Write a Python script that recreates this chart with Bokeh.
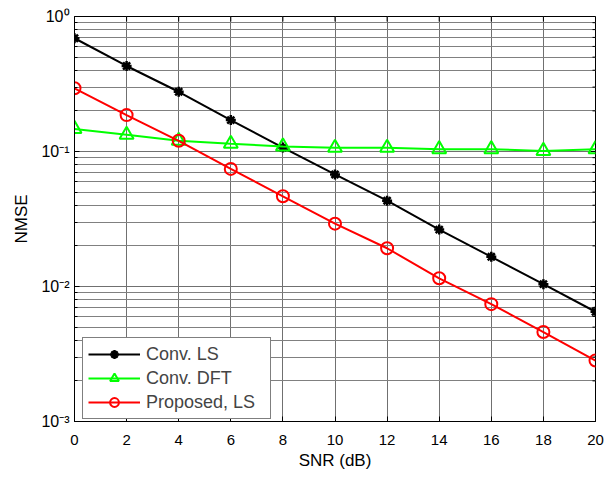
import math
from bokeh.plotting import figure
from bokeh.models import FixedTicker, Range1d, CustomJSTickFormatter, Legend, LegendItem
from bokeh.embed import file_html
from bokeh.resources import INLINE

snr = [0, 2, 4, 6, 8, 10, 12, 14, 16, 18, 20]
conv_ls = [0.69, 0.43, 0.277, 0.171, 0.107, 0.0676, 0.0432, 0.0264, 0.0166, 0.0104, 0.0065]
conv_dft = [0.147, 0.133, 0.12, 0.114, 0.109, 0.1066, 0.1066, 0.104, 0.104, 0.101, 0.104]
proposed_ls = [0.294, 0.186, 0.12, 0.0743, 0.0466, 0.0292, 0.0192, 0.0115, 0.0074, 0.0046, 0.00283]

x_ticks = [0, 2, 4, 6, 8, 10, 12, 14, 16, 18, 20]
y_ticks = [0.001, 0.01, 0.1, 1.0]
y_minor = [m * d for d in [0.001, 0.01, 0.1] for m in range(2, 10)]

FONT = "Liberation Sans"

p = figure(frame_width=521, frame_height=405, output_backend="svg", toolbar_location=None,
           y_axis_type="log", x_range=Range1d(0, 20), y_range=Range1d(1e-3, 1),
           min_border_left=74, min_border_right=9, min_border_top=16, min_border_bottom=40)
p.outline_line_color = "black"
p.outline_line_width = 1
p.background_fill_color = "white"

fmt = CustomJSTickFormatter(code="""
const e = Math.round(Math.log10(tick));
const sup = {'-':'\\u207b','0':'\\u2070','1':'\\u00b9','2':'\\u00b2','3':'\\u00b3'};
return '10' + String(e).split('').map(c => sup[c]).join('');
""")

xt = FixedTicker(ticks=x_ticks, minor_ticks=[])
yt = FixedTicker(ticks=y_ticks, minor_ticks=y_minor)

xa = p.xaxis[0]
xa.ticker = xt
xa.axis_label = "SNR (dB)"
ya = p.yaxis[0]
ya.ticker = yt
ya.formatter = fmt
ya.axis_label = "NMSE"

for ax in (xa, ya):
    ax.major_tick_in = 5
    ax.major_tick_out = 0
    ax.minor_tick_in = 3
    ax.minor_tick_out = 0
    ax.axis_line_color = "black"
    ax.major_tick_line_color = "black"
    ax.minor_tick_line_color = "black"
    ax.major_label_text_font = FONT
    ax.major_label_text_font_size = "15px"
    ax.major_label_text_color = "black"
    ax.axis_label_text_font = FONT
    ax.axis_label_text_font_size = "17px"
    ax.axis_label_text_font_style = "normal"
    ax.axis_label_text_color = "black"

ya.major_label_text_font_size = "16px"
xa.major_label_standoff = 13
xa.axis_label_standoff = 3
ya.major_label_standoff = 5
ya.axis_label_standoff = 7

p.xgrid.ticker = xt
p.ygrid.ticker = yt
for g in (p.xgrid[0], p.ygrid[0]):
    g.grid_line_color = "#707070"
    g.grid_line_width = 1
p.ygrid.minor_grid_line_color = "#808080"
p.ygrid.minor_grid_line_width = 1

# box ticks on top and right edges (MATLAB "box on")
p.ray(x=x_ticks, y=[1.0] * len(x_ticks), length=5, length_units="screen",
      angle=-math.pi / 2, line_color="black", line_width=1)
p.ray(x=[20] * len(y_ticks), y=y_ticks, length=5, length_units="screen",
      angle=math.pi, line_color="black", line_width=1)
p.ray(x=[20] * len(y_minor), y=y_minor, length=3, length_units="screen",
      angle=math.pi, line_color="black", line_width=1)

l1 = p.line(snr, conv_ls, line_color="black", line_width=2)
m1 = p.scatter(snr, conv_ls, marker="asterisk", size=10, line_color="black", line_width=2.5)
l2 = p.line(snr, conv_dft, line_color="#00ff00", line_width=2)
m2 = p.scatter(snr, conv_dft, marker="triangle", size=14, line_color="#00ff00", fill_color=None, line_width=2)
l3 = p.line(snr, proposed_ls, line_color="#ff0000", line_width=2)
m3 = p.scatter(snr, proposed_ls, marker="circle", size=12, line_color="#ff0000", fill_color=None, line_width=2)

legend = Legend(items=[
    LegendItem(label="Conv. LS", renderers=[l1, m1]),
    LegendItem(label="Conv. DFT", renderers=[l2, m2]),
    LegendItem(label="Proposed, LS", renderers=[l3, m3]),
], location=(8, 2), margin=0, padding=5, spacing=2,
   glyph_width=52, glyph_height=22, label_height=22, label_width=119, label_standoff=6,
   label_text_font=FONT, label_text_font_size="18px",
   border_line_color="black", border_line_width=1,
   background_fill_color="white", background_fill_alpha=1)
p.add_layout(legend, "center")

open("out.html", "w").write(file_html(p, INLINE))
